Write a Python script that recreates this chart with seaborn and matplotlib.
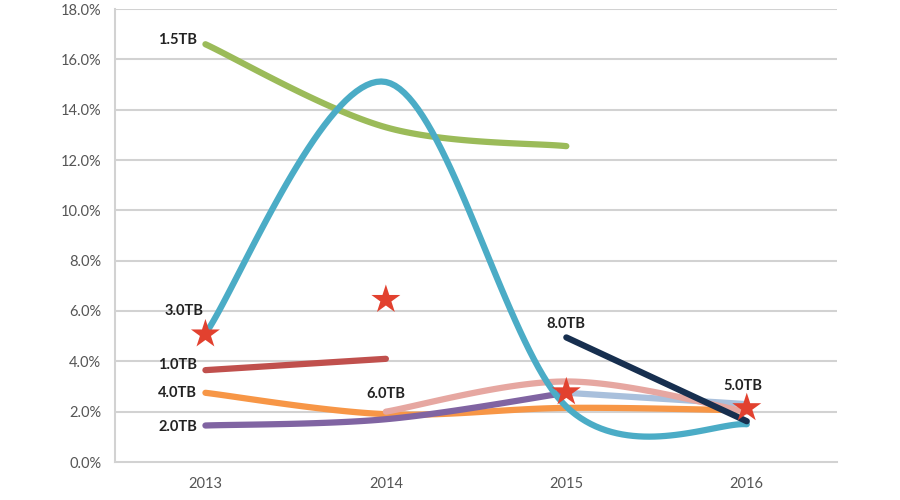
import matplotlib.pyplot as plt
import numpy as np
import pandas as pd
import seaborn as sns

# Data (failure rate, %)
years = ['2013', '2014', '2015', '2016']
tb_1_5 = [16.6, 13.3, 12.55, None]
tb_1_0 = [3.65, 4.1, None, None]
tb_4_0 = [2.75, 1.9, 2.15, 2.05]
tb_2_0 = [1.45, 1.7, 2.75, None]
tb_extra = [None, None, 2.75, 2.3]
tb_6_0 = [None, 2.0, 3.2, 2.0]
tb_3_0 = [5.1, 15.1, 2.2, 1.5]
tb_8_0 = [None, None, 4.95, 1.62]
stars = [5.08, 6.45, 2.78, 2.15]

series_names = ['1.5TB', '1.0TB', '4.0TB', '2.0TB', '', '6.0TB', '3.0TB', '8.0TB']
series_values = [tb_1_5, tb_1_0, tb_4_0, tb_2_0, tb_extra, tb_6_0, tb_3_0, tb_8_0]
series_colors = ['#9BBB59', '#C0504D', '#F79646', '#8064A2', '#A9C0DC',
                 '#E6A7A1', '#4BACC6', '#172F4F']

# where each label sits (point index, offset in points, alignment)
label_spots = {
    '1.5TB': (0, (-6, 3), 'right'),
    '1.0TB': (0, (-6, 4), 'right'),
    '4.0TB': (0, (-6, 0), 'right'),
    '2.0TB': (0, (-6, -1), 'right'),
    '6.0TB': (0, (0, 13), 'center'),
    '3.0TB': (0, (-1, 16), 'right'),
    '8.0TB': (0, (0, 10), 'center'),
}


def smooth(xs, ys, n=40):
    # Catmull-Rom style smoothing, like the spreadsheet "smoothed line"
    pts = np.column_stack([xs, ys]).astype(float)
    if len(pts) < 3:
        return pts[:, 0], pts[:, 1]
    padded = np.vstack([pts[0], pts, pts[-1]])
    out = []
    for i in range(1, len(padded) - 2):
        p0, p1, p2, p3 = padded[i - 1], padded[i], padded[i + 1], padded[i + 2]
        m1 = (p2 - p0) / 2
        m2 = (p3 - p1) / 2
        t = np.linspace(0, 1, n)[:, None]
        h00 = 2 * t**3 - 3 * t**2 + 1
        h10 = t**3 - 2 * t**2 + t
        h01 = -2 * t**3 + 3 * t**2
        h11 = t**3 - t**2
        out.append(h00 * p1 + h10 * m1 + h01 * p2 + h11 * m2)
    out = np.vstack(out)
    return out[:, 0], out[:, 1]


rows = []
for name, vals in zip(series_names, series_values):
    idx = [i for i, v in enumerate(vals) if v is not None]
    sx, sy = smooth(idx, [vals[i] for i in idx])
    key = name if name else 'extra'
    for a, b in zip(sx, sy):
        rows.append({'series': key, 'x': a, 'y': b})
df = pd.DataFrame(rows)

sns.set_style('white')
plt.rcParams['font.family'] = ['Lato', 'DejaVu Sans']

fig = plt.figure(figsize=(9, 5), dpi=100)
ax = fig.add_axes([0.128, 0.076, 0.802, 0.906])

grid_color = '#D2D2D2'
for v in range(2, 19, 2):
    ax.axhline(v, color=grid_color, lw=1.5, zorder=0)

palette = {(n if n else 'extra'): c for n, c in zip(series_names, series_colors)}
for key in df['series'].unique():
    sub = df[df['series'] == key]
    sns.lineplot(data=sub, x='x', y='y', color=palette[key], lw=4.5,
                 sort=False, estimator=None, ax=ax, legend=False,
                 solid_capstyle='round')

star_df = pd.DataFrame({'x': range(len(years)), 'y': stars})
sns.scatterplot(data=star_df, x='x', y='y', marker='*', s=480,
                color='#E2412F', edgecolor='none', ax=ax, zorder=5,
                legend=False)

for name, vals in zip(series_names, series_values):
    if name not in label_spots:
        continue
    k, off, ha = label_spots[name]
    idx = [i for i, v in enumerate(vals) if v is not None][k]
    ax.annotate(name, (idx, vals[idx]), xytext=off, textcoords='offset points',
                ha=ha, va='center', fontsize=10.5, fontweight='bold',
                color='#222222')
ax.annotate('5.0TB', (3, stars[3]), xytext=(-3, 16), textcoords='offset points',
            ha='center', va='center', fontsize=10.5, fontweight='bold',
            color='#222222')

ax.set_xlim(-0.5, 3.5)
ax.set_ylim(0, 18)
ax.set_xticks(range(len(years)))
ax.set_xticklabels(years)
ax.set_xticks(np.arange(-0.5, 3.6, 1), minor=True)
ax.set_yticks(range(0, 19, 2))
ax.set_yticklabels([f'{v:.1f}%' for v in range(0, 19, 2)])
ax.tick_params(axis='x', which='major', length=0, pad=11, labelsize=10.5,
               labelcolor='#555555')
ax.tick_params(axis='x', which='minor', length=6, width=1.2, color=grid_color,
               direction='out')
ax.tick_params(axis='y', length=4, width=1.5, color=grid_color, pad=6,
               labelsize=10.5, labelcolor='#555555')
ax.set_xlabel('')
ax.set_ylabel('')

for side in ['top', 'right']:
    ax.spines[side].set_visible(False)
ax.spines['left'].set_color(grid_color)
ax.spines['left'].set_linewidth(1.5)
ax.spines['bottom'].set_color(grid_color)
ax.spines['bottom'].set_linewidth(1.5)

fig.savefig('out.png', dpi=100)
